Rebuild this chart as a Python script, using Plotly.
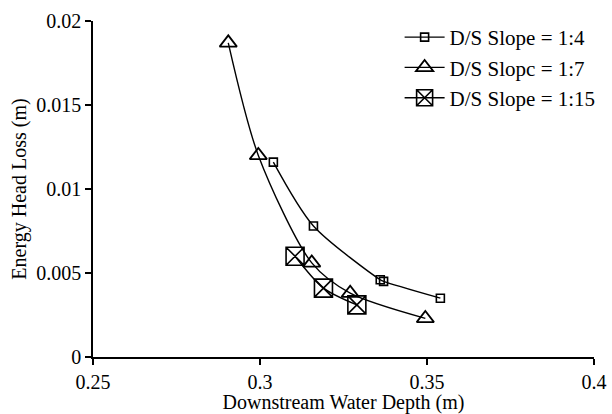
import plotly.graph_objects as go

# Downstream water depth (m) vs energy head loss (m) for three downstream slopes
depth_1_4 = [0.304, 0.316, 0.336, 0.337, 0.354]
loss_1_4 = [0.0116, 0.0078, 0.0046, 0.0045, 0.0035]

depth_1_7 = [0.2905, 0.2995, 0.3155, 0.327, 0.3495]
loss_1_7 = [0.0187, 0.0120, 0.0056, 0.0038, 0.0023]

depth_1_15 = [0.3105, 0.319, 0.329]
loss_1_15 = [0.0060, 0.0041, 0.0031]

series_names = ["D/S Slope = 1:4", "D/S Slopc = 1:7", "D/S Slope = 1:15"]

x_ticks = [0.25, 0.3, 0.35, 0.4]
x_tick_text = ["0.25", "0.3", "0.35", "0.4"]
y_ticks = [0, 0.005, 0.01, 0.015, 0.02]
y_tick_text = ["0", "0.005", "0.01", "0.015", "0.02"]

FONT = "Liberation Serif"

fig = go.Figure()

fig.add_trace(go.Scatter(
    x=depth_1_4, y=loss_1_4, name=series_names[0],
    mode="lines+markers",
    line=dict(color="black", width=1.4, shape="spline", smoothing=0.8),
    marker=dict(symbol="square-open", size=8, color="black", line=dict(width=1.6)),
))
fig.add_trace(go.Scatter(
    x=depth_1_7, y=loss_1_7, name=series_names[1],
    mode="lines+markers",
    line=dict(color="black", width=1.4, shape="spline", smoothing=0.8),
    marker=dict(symbol="triangle-up-open", size=15, color="black", line=dict(width=1.8)),
))
fig.add_trace(go.Scatter(
    x=depth_1_15, y=loss_1_15, name=series_names[2],
    mode="lines+markers",
    line=dict(color="black", width=1.4, shape="spline", smoothing=0.8),
    marker=dict(symbol="square-x-open", size=18, color="black", line=dict(width=1.6)),
))

fig.update_layout(
    width=612, height=414,
    margin=dict(l=93, r=5, t=21, b=57),
    paper_bgcolor="white", plot_bgcolor="white",
    font=dict(family=FONT, size=19, color="black"),
    showlegend=True,
    legend=dict(
        x=0.612, y=1.012, xanchor="left", yanchor="top",
        bgcolor="rgba(0,0,0,0)", font=dict(family=FONT, size=21, color="black"),
        itemwidth=40, tracegroupgap=0,
    ),
    xaxis=dict(
        range=[0.25, 0.4], tickvals=x_ticks, ticktext=x_tick_text,
        showgrid=False, zeroline=False, showline=True, linecolor="black", linewidth=1.5,
        ticks="outside", ticklen=6, tickwidth=1.5, tickcolor="black",
        tickfont=dict(family=FONT, size=20, color="black"), ticklabeloverflow="allow",
        title=dict(text="Downstream Water Depth (m)", font=dict(family=FONT, size=20, color="black"), standoff=1),
    ),
    yaxis=dict(
        range=[0, 0.02], tickvals=y_ticks, ticktext=y_tick_text,
        showgrid=False, zeroline=False, showline=True, linecolor="black", linewidth=1.5,
        ticks="outside", ticklen=6, tickwidth=1.5, tickcolor="black",
        tickfont=dict(family=FONT, size=20, color="black"),
        title=dict(text="Energy Head Loss (m)", font=dict(family=FONT, size=20, color="black"), standoff=4),
    ),
)

fig.write_html("out.html")
